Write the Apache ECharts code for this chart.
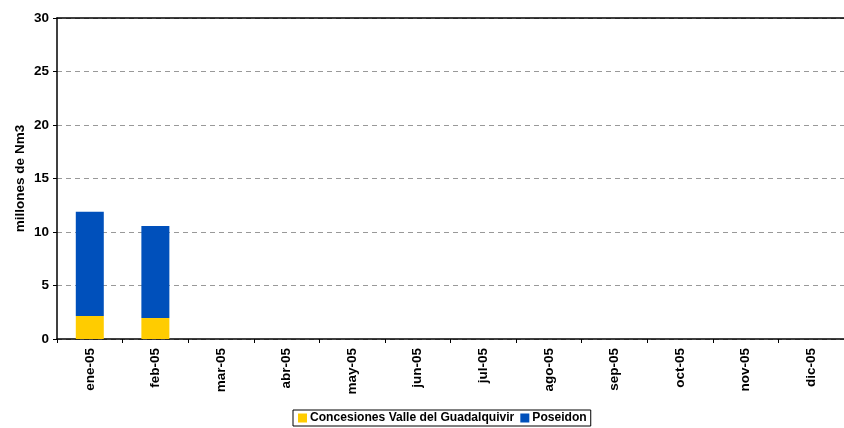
<!DOCTYPE html>
<html>
<head>
<meta charset="utf-8">
<script src="https://cdn.jsdelivr.net/npm/echarts@6/dist/echarts.min.js"></script>
<style>
  html, body { margin: 0; padding: 0; background: #fff; }
  #chart { width: 844px; height: 428px; }
</style>
</head>
<body>
<div id="chart"></div>
<script>
const months = ['ene-05', 'feb-05', 'mar-05', 'abr-05', 'may-05', 'jun-05',
  'jul-05', 'ago-05', 'sep-05', 'oct-05', 'nov-05', 'dic-05']
const concesiones = [2.15, 1.96, null, null, null, null, null, null, null, null, null, null]
const poseidon = [9.75, 8.6, null, null, null, null, null, null, null, null, null, null]

const font = 'Arial, "Liberation Sans", sans-serif'
const chart = echarts.init(document.getElementById('chart'))

chart.setOption({
  animation: false,
  grid: { left: 57, right: 0, top: 18, bottom: 89 },
  legend: {
    bottom: 2,
    left: 293,
    itemWidth: 9,
    itemHeight: 9,
    itemGap: 6,
    padding: [2, 4, 2, 5],
    borderColor: '#000',
    borderWidth: 1,
    icon: 'rect',
    textStyle: { fontFamily: font, fontSize: 12.1, fontWeight: 'bold', color: '#000', padding: [0, 0, 0, -2] }
  },
  xAxis: [
    {
      type: 'category',
      data: months,
      axisLine: { lineStyle: { color: '#000', width: 1.5 } },
      axisTick: { show: true, length: 4, lineStyle: { color: '#000' } },
      axisLabel: {
        rotate: 90,
        margin: 9,
        fontFamily: font,
        fontSize: 13.5,
        fontWeight: 'bold',
        color: '#000',
        interval: 0
      }
    },
    {
      type: 'category',
      data: months,
      position: 'top',
      axisLine: { lineStyle: { color: '#000', width: 1.5 } },
      axisTick: { show: false },
      axisLabel: { show: false }
    }
  ],
  yAxis: {
    type: 'value',
    min: 0,
    max: 30,
    interval: 5,
    name: 'millones de Nm3',
    nameLocation: 'middle',
    nameGap: 30,
    nameMoveOverlap: false,
    nameRotate: 90,
    nameTextStyle: { fontFamily: font, fontSize: 13.5, fontWeight: 'bold', color: '#000' },
    axisLine: { show: true, lineStyle: { color: '#000', width: 1.5 } },
    axisTick: { show: true, length: 4, lineStyle: { color: '#000' } },
    axisLabel: { fontFamily: font, fontSize: 13.5, fontWeight: 'bold', color: '#000', margin: 8 },
    splitLine: { lineStyle: { color: '#999', type: [5, 4], width: 1 } }
  },
  series: [
    {
      name: 'Concesiones Valle del Guadalquivir',
      type: 'bar',
      stack: 'total',
      barWidth: 28,
      data: concesiones,
      itemStyle: { color: '#FFCC00' }
    },
    {
      name: 'Poseidon',
      type: 'bar',
      stack: 'total',
      barWidth: 28,
      data: poseidon,
      itemStyle: { color: '#0050BB' }
    }
  ]
})
</script>
</body>
</html>
